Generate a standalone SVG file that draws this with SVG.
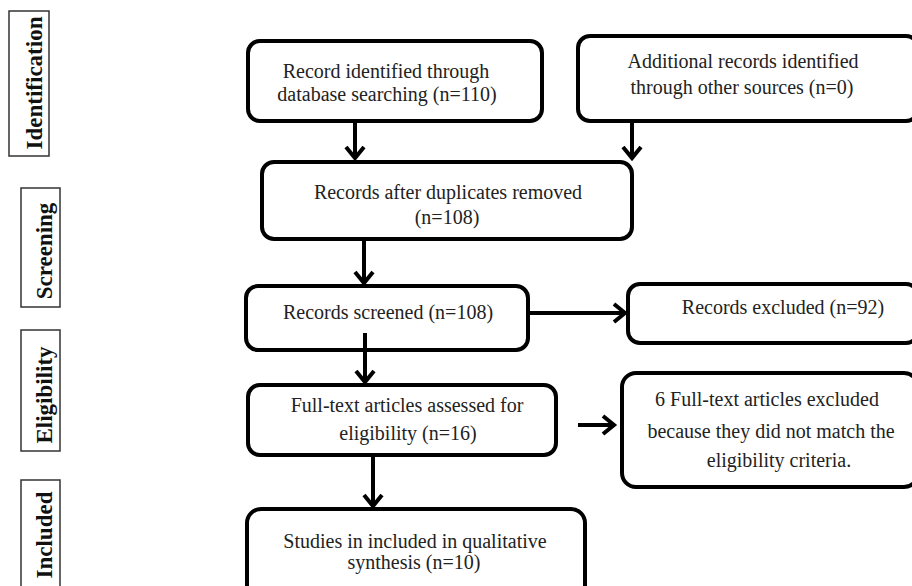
<svg xmlns="http://www.w3.org/2000/svg" width="912" height="586" viewBox="0 0 912 586">
<style>
.box{fill:#fff;stroke:#000;stroke-width:4}
.lab{fill:#fff;stroke:#333;stroke-width:1.5}
.t{font-family:"Liberation Serif","Times New Roman",serif;font-size:20px;fill:#222;text-anchor:middle}
.s{font-family:"Liberation Serif","Times New Roman",serif;font-size:23px;font-weight:bold;fill:#111;text-anchor:middle}
.ln{fill:none;stroke:#000;stroke-width:4}
.hd{fill:none;stroke:#000;stroke-width:4;stroke-linejoin:miter}
</style>
<rect width="912" height="586" fill="#fff"/>
<g id="stage-identification"><rect class="lab" x="9" y="11" width="40" height="145"/><text class="s" transform="translate(42,83) rotate(-90)">Identification</text></g>
<g id="stage-screening"><rect class="lab" x="21" y="188" width="39" height="119"/><text class="s" transform="translate(52,251) rotate(-90)">Screening</text></g>
<g id="stage-eligibility"><rect class="lab" x="21" y="330" width="39" height="121"/><text class="s" transform="translate(52,395) rotate(-90)">Eligibility</text></g>
<g id="stage-included"><rect class="lab" x="21" y="480" width="39" height="120"/><text class="s" transform="translate(52,535) rotate(-90)">Included</text></g>
<g id="n1"><rect class="box" x="248" y="41" width="294" height="80" rx="12"/><text class="t" x="386" y="78">Record identified through</text><text class="t" x="387" y="101">database searching (n=110)</text></g>
<g id="n2"><rect class="box" x="578" y="36" width="340" height="85" rx="12"/><text class="t" x="743" y="68">Additional records identified</text><text class="t" x="742" y="94">through other sources (n=0)</text></g>
<g id="n3"><rect class="box" x="262" y="162" width="370" height="77" rx="12"/><text class="t" x="448" y="199">Records after duplicates removed</text><text class="t" x="447" y="224">(n=108)</text></g>
<g id="n4"><rect class="box" x="246" y="286" width="282" height="64" rx="12"/><text class="t" x="388" y="319">Records screened (n=108)</text></g>
<g id="n5"><rect class="box" x="628" y="284" width="290" height="59" rx="12"/><text class="t" x="783" y="314">Records excluded (n=92)</text></g>
<g id="n6"><rect class="box" x="248" y="385" width="308" height="70" rx="12"/><text class="t" x="407" y="412">Full-text articles assessed for</text><text class="t" x="408" y="440">eligibility (n=16)</text></g>
<g id="n7"><rect class="box" x="622" y="373" width="296" height="114" rx="14"/><text class="t" x="767" y="406">6 Full-text articles excluded</text><text class="t" x="771" y="438">because they did not match the</text><text class="t" x="779" y="467">eligibility criteria.</text></g>
<g id="n8"><rect class="box" x="247" y="509" width="338" height="90" rx="14"/><text class="t" x="415" y="548">Studies in included in qualitative</text><text class="t" x="414" y="569">synthesis (n=10)</text></g>
<g id="connectors">
<line class="ln" x1="355" y1="121" x2="355" y2="158"/><polyline class="hd" points="346,147 355,158 364,147"/>
<line class="ln" x1="632" y1="121" x2="632" y2="158"/><polyline class="hd" points="623,147 632,158 641,147"/>
<line class="ln" x1="364" y1="239" x2="364" y2="283"/><polyline class="hd" points="355,272 364,283 373,272"/>
<line class="ln" x1="528" y1="313" x2="625" y2="313"/><polyline class="hd" points="614,304 625,313 614,322"/>
<line class="ln" x1="365" y1="333" x2="365" y2="382"/><polyline class="hd" points="356,371 365,382 374,371"/>
<line class="ln" x1="578" y1="425" x2="614" y2="425"/><polyline class="hd" points="603,416 614,425 603,434"/>
<line class="ln" x1="373" y1="455" x2="373" y2="506"/><polyline class="hd" points="364,495 373,506 382,495"/>
</g>
</svg>
